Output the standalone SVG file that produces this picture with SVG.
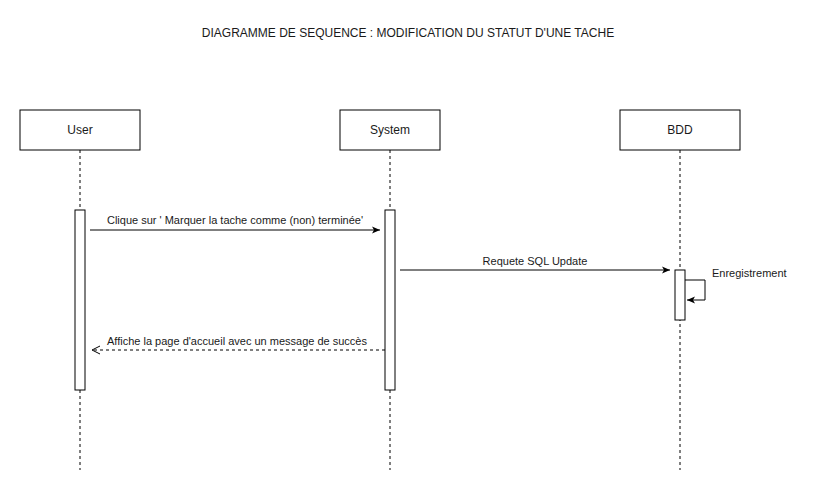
<svg xmlns="http://www.w3.org/2000/svg" width="831" height="491" viewBox="0 0 831 491">
<style>
text{font-family:"Liberation Sans",Arial,sans-serif;fill:#1a1a1a}
.box{fill:#fff;stroke:#000;stroke-width:1}
.life{stroke:#000;stroke-width:1;stroke-dasharray:3 3;fill:none}
.act{fill:#fff;stroke:#000;stroke-width:1}
.msg{stroke:#000;stroke-width:1;fill:none}
.dash{stroke-dasharray:3 3}
.lbl{font-size:11px}
.name{font-size:12px;text-anchor:middle}
</style>
<defs>
<marker id="filled" markerWidth="10" markerHeight="10" refX="9" refY="5" orient="auto" markerUnits="userSpaceOnUse">
<path d="M1,1.5 L9,5 L1,8.5 L3,5 Z" fill="#000"/>
</marker>
<marker id="open" markerWidth="12" markerHeight="12" refX="10" refY="6" orient="auto" markerUnits="userSpaceOnUse">
<path d="M2,2 L10,6 L2,10" fill="none" stroke="#000" stroke-width="1"/>
</marker>
</defs>
<rect width="831" height="491" fill="#fff"/>
<text x="408" y="37" font-size="12" text-anchor="middle">DIAGRAMME DE SEQUENCE : MODIFICATION DU STATUT D'UNE TACHE</text>
<g id="user">
<line class="life" x1="80" y1="150" x2="80" y2="470"/>
<rect class="box" x="20" y="110" width="120" height="40"/>
<text class="name" x="80" y="134">User</text>
<rect class="act" x="75" y="210" width="10" height="180"/>
</g>
<g id="system">
<line class="life" x1="390" y1="150" x2="390" y2="470"/>
<rect class="box" x="340" y="110" width="100" height="40"/>
<text class="name" x="390" y="134">System</text>
<rect class="act" x="385" y="210" width="10" height="180"/>
</g>
<g id="bdd">
<line class="life" x1="680" y1="150" x2="680" y2="470"/>
<rect class="box" x="620" y="110" width="120" height="40"/>
<text class="name" x="680" y="134">BDD</text>
<rect class="act" x="675" y="270" width="10" height="50"/>
</g>
<g id="connectors">
<line class="msg" x1="90" y1="230" x2="380" y2="230" marker-end="url(#filled)"/>
<text class="lbl" x="235" y="224" text-anchor="middle">Clique sur ' Marquer la tache comme (non) terminée'</text>
<line class="msg" x1="400" y1="270" x2="670" y2="270" marker-end="url(#filled)"/>
<text class="lbl" x="535" y="265" text-anchor="middle">Requete SQL Update</text>
<path class="msg" d="M685,280 H705 V300 H687" marker-end="url(#filled)"/>
<text class="lbl" x="712" y="277">Enregistrement</text>
<line class="msg dash" x1="385" y1="350" x2="92" y2="350" marker-end="url(#open)"/>
<text class="lbl" x="107" y="345">Affiche la page d'accueil avec un message de succès</text>
</g>
</svg>
